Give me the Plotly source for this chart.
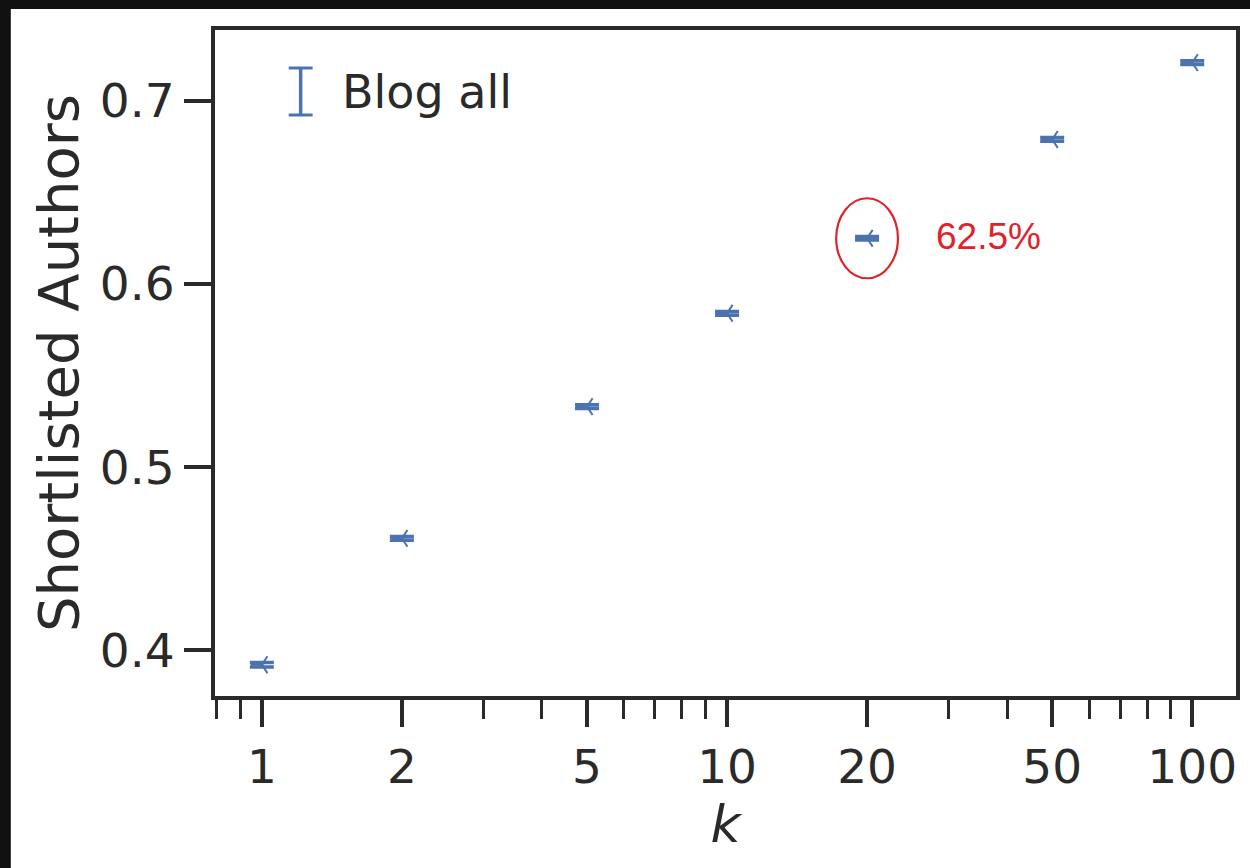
import math
import plotly.graph_objects as go

# Shortlisted-author rate against shortlist size k
k_values = [1, 2, 5, 10, 20, 50, 100]
shortlisted = [0.392, 0.461, 0.533, 0.584, 0.625, 0.679, 0.721]
spread = [0.0012, 0.0010, 0.0010, 0.0010, 0.0010, 0.0010, 0.0010]
series_name = "Blog all"

highlight_k = 20
highlight_value = 0.625

x_ticks = [1, 2, 5, 10, 20, 50, 100]
x_minor = [0.8, 0.9, 3, 4, 6, 7, 8, 9, 30, 40, 60, 70, 80, 90]
y_ticks = [0.4, 0.5, 0.6, 0.7]

W, H = 1250, 868
PL, PR, PT, PB = 215, 1240, 30, 696
X_RANGE = [math.log10(0.793), math.log10(124.2)]
Y_RANGE = [0.3749, 0.7388]
INK = "#2a2a2a"
BLUE = "#4c72b0"
RED = "#e0232b"
FRAME = "#111111"
FONT = "DejaVu Sans"


def px(x):
    return (x - PL) / (PR - PL)


def py(y):
    return (PB - y) / (PB - PT)


fig = go.Figure()
fig.add_trace(go.Scatter(
    x=k_values,
    y=shortlisted,
    mode="markers",
    name=series_name,
    showlegend=False,
    marker=dict(symbol="y-left-open", size=14, color=BLUE,
                line=dict(color=BLUE, width=2)),
    error_y=dict(type="data", array=spread, visible=True,
                 color=BLUE, thickness=3.5, width=12),
))

shapes = []
# white sheet on a dark page, leaving a dark edge at the top and left
shapes.append(dict(type="rect", xref="paper", yref="paper",
                   x0=px(10), x1=px(W + 20), y0=py(H + 20), y1=py(9),
                   fillcolor="white", line=dict(width=0), layer="below"))

# legend glyph: an error bar with caps
lx, ly0, ly1, cap = 301, 68, 115, 12
shapes.append(dict(type="line", xref="paper", yref="paper",
                   x0=px(lx), x1=px(lx), y0=py(ly1), y1=py(ly0),
                   line=dict(color=BLUE, width=3.5)))
for yy in (ly0, ly1):
    shapes.append(dict(type="line", xref="paper", yref="paper",
                       x0=px(lx - cap), x1=px(lx + cap), y0=py(yy), y1=py(yy),
                       line=dict(color=BLUE, width=3)))

# red ring around the highlighted point (31 x 40 px radii)
px_per_decade = (PR - PL) / (X_RANGE[1] - X_RANGE[0])
px_per_unit_y = (PB - PT) / (Y_RANGE[1] - Y_RANGE[0])
shapes.append(dict(type="circle", xref="x", yref="y",
                   x0=highlight_k * 10 ** (-31 / px_per_decade),
                   x1=highlight_k * 10 ** (31 / px_per_decade),
                   y0=highlight_value - 40 / px_per_unit_y,
                   y1=highlight_value + 40 / px_per_unit_y,
                   line=dict(color=RED, width=2.2)))

annotations = [
    dict(text=series_name, xref="paper", yref="paper",
         x=px(340), y=py(92), xanchor="left", yanchor="middle",
         showarrow=False, font=dict(family=FONT, size=46, color=INK)),
    dict(text=f"{highlight_value * 100:.1f}%", xref="x", yref="y",
         x=math.log10(highlight_k), y=highlight_value,
         xanchor="left", yanchor="middle", xshift=67, yshift=2,
         showarrow=False,
         font=dict(family="Liberation Sans", size=37, color=RED)),
]

fig.update_layout(
    width=W, height=H,
    margin=dict(l=PL, r=W - PR, t=PT, b=H - PB, pad=0),
    paper_bgcolor=FRAME,
    plot_bgcolor="white",
    font=dict(family=FONT, color=INK, size=47),
    shapes=shapes,
    annotations=annotations,
    showlegend=False,
)

fig.update_xaxes(
    type="log",
    range=X_RANGE,
    tickvals=x_ticks,
    ticktext=[str(v) for v in x_ticks],
    ticks="outside", ticklen=27, tickwidth=3.5, tickcolor=INK,
    minor=dict(tickvals=x_minor, ticks="outside", ticklen=19,
               tickwidth=3, tickcolor=INK, showgrid=False),
    tickfont=dict(family=FONT, size=47, color=INK),
    showline=True, linewidth=4, linecolor=INK, mirror=True,
    showgrid=False, zeroline=False,
    title=dict(text="<i>k</i>", font=dict(family=FONT, size=52, color=INK),
               standoff=6),
)

fig.update_yaxes(
    range=Y_RANGE,
    tickvals=y_ticks,
    ticktext=[f"{v:.1f}" for v in y_ticks],
    ticks="outside", ticklen=27, tickwidth=3.5, tickcolor=INK,
    tickfont=dict(family=FONT, size=47, color=INK),
    showline=True, linewidth=4, linecolor=INK, mirror=True,
    showgrid=False, zeroline=False,
    title=dict(text="Shortlisted Authors",
               font=dict(family=FONT, size=56, color=INK), standoff=4),
)

fig.write_html("out.html")
